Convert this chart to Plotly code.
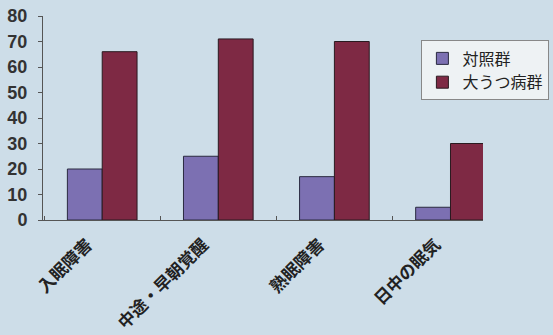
import plotly.graph_objects as go

categories = ["入眠障害", "中途・早朝覚醒", "熟眠障害", "日中の眠気"]
control = [20, 25, 17, 5]
depression = [66, 71, 70, 30]
series_names = ["対照群", "大うつ病群"]
y_ticks = [0, 10, 20, 30, 40, 50, 60, 70, 80]

bg = "#cddde8"
font_fam = "Noto Sans CJK JP, Noto Sans, sans-serif"

fig = go.Figure()
fig.add_trace(go.Bar(x=categories, y=control, name=series_names[0],
                     marker=dict(color="#7c70b2", line=dict(color="#2a2a40", width=1))))
fig.add_trace(go.Bar(x=categories, y=depression, name=series_names[1],
                     marker=dict(color="#7e2944", line=dict(color="#2a1a20", width=1))))

fig.update_layout(
    width=553, height=335,
    margin=dict(l=43, r=70, t=16, b=115, autoexpand=False),
    paper_bgcolor=bg, plot_bgcolor=bg,
    barmode="group", bargap=0.4, bargroupgap=0,
    font=dict(family=font_fam, color="#2a2a2a"),
    showlegend=True,
    legend=dict(x=0.86, y=0.88, xanchor="left", yanchor="top",
                bgcolor="#eef2f4", bordercolor="#888888", borderwidth=1,
                font=dict(size=16, family=font_fam, color="#222"),
                itemwidth=30, tracegroupgap=2),
)
fig.update_xaxes(range=[-0.51, 3.28], showline=True, linecolor="#555", linewidth=1,
                 tickangle=-45, ticks="inside", tickson="boundaries", ticklen=4,
                 tickcolor="#555", showgrid=False,
                 ticklabelshift=-15, ticklabelstandoff=7,
                 tickfont=dict(size=17, family=font_fam, color="#222", weight="bold"))
fig.update_yaxes(range=[0, 80], tickvals=y_ticks, showline=True, linecolor="#555", linewidth=1,
                 ticks="outside", ticklen=4, tickcolor="#555", showgrid=False, zeroline=False,
                 ticklabelstandoff=7,
                 tickfont=dict(size=18, family="Liberation Sans, Arial", color="#333", weight="bold"))

fig.write_html("out.html")
